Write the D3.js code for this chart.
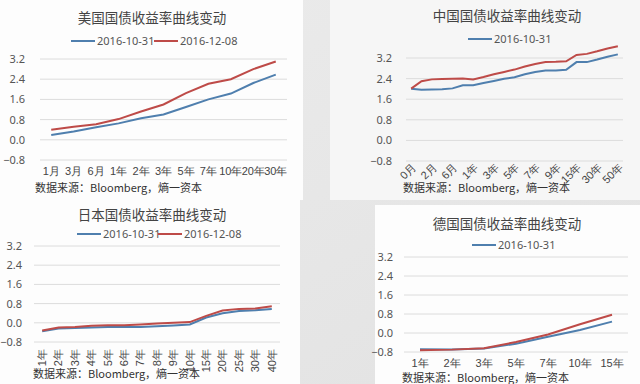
<!DOCTYPE html>
<html>
<head>
<meta charset="utf-8">
<script src="https://cdn.jsdelivr.net/npm/d3@7"></script>
<style>
body { margin: 0; background: #e6e6e6; }
svg { display: block; font-family: "Noto Sans CJK SC", "Noto Sans", sans-serif; }
</style>
</head>
<body>
<div id="chart"></div>
<script>
// Data
var yTicks = [-0.8, 0.0, 0.8, 1.6, 2.4, 3.2];
var seriesNames = ["2016-10-31", "2016-12-08"];

var usTerms = ["1月", "3月", "6月", "1年", "2年", "3年", "5年", "7年", "10年", "20年", "30年"];
var usOct = [0.19, 0.33, 0.50, 0.65, 0.85, 1.00, 1.30, 1.60, 1.83, 2.25, 2.58];
var usDec = [0.40, 0.52, 0.62, 0.82, 1.12, 1.40, 1.85, 2.22, 2.40, 2.80, 3.10];

var cnTerms = ["0月", "1月", "2月", "3月", "6月", "9月", "1年", "2年", "3年", "4年", "5年",
  "6年", "7年", "8年", "9年", "10年", "15年", "20年", "30年", "40年", "50年"];
var cnOct = [2.01, 1.97, 1.98, 1.99, 2.02, 2.14, 2.14, 2.23, 2.31, 2.39, 2.45,
  2.57, 2.66, 2.71, 2.71, 2.74, 3.04, 3.04, 3.14, 3.25, 3.34];
var cnDec = [2.01, 2.30, 2.37, 2.38, 2.39, 2.40, 2.37, 2.46, 2.57, 2.66, 2.75,
  2.87, 2.97, 3.04, 3.05, 3.07, 3.32, 3.36, 3.46, 3.57, 3.66];

var jpTerms = ["1年", "2年", "3年", "4年", "5年", "6年", "7年", "8年", "9年", "10年",
  "15年", "20年", "25年", "30年", "40年"];
var jpOct = [-0.35, -0.24, -0.22, -0.20, -0.18, -0.18, -0.18, -0.14, -0.11, -0.07,
  0.22, 0.40, 0.49, 0.52, 0.58];
var jpDec = [-0.32, -0.20, -0.17, -0.12, -0.10, -0.10, -0.07, -0.03, 0.00, 0.03,
  0.29, 0.51, 0.58, 0.60, 0.69];

var deTerms = ["1年", "2年", "3年", "5年", "7年", "10年", "15年"];
var deOct = [-0.68, -0.69, -0.65, -0.45, -0.16, 0.13, 0.48];
var deDec = [-0.73, -0.70, -0.64, -0.38, -0.06, 0.37, 0.77];

var blue = "#4f7fae";
var red = "#be4b48";
var source = "数据来源：Bloomberg，熵一资本";

var svg = d3.select("#chart")
  .append("svg")
  .attr("width", 640)
  .attr("height", 384);

// photo-like background with white chart cards
var grad = svg.append("defs").append("linearGradient")
  .attr("id", "bg").attr("x1", 0).attr("y1", 0).attr("x2", 1).attr("y2", 1);
grad.append("stop").attr("offset", "0%").attr("stop-color", "#ececec");
grad.append("stop").attr("offset", "100%").attr("stop-color", "#e2e2e2");
svg.append("rect").attr("width", 640).attr("height", 384).attr("fill", "url(#bg)");

svg.append("rect").attr("x", 0).attr("y", 0).attr("width", 303).attr("height", 200).attr("fill", "#fdfdfd");
svg.append("rect").attr("x", 0).attr("y", 200).attr("width", 300).attr("height", 184).attr("fill", "#fdfdfd");
svg.append("rect").attr("x", 330).attr("y", 0).attr("width", 310).attr("height", 200).attr("fill", "#f6f6f6");
svg.append("rect").attr("x", 375).attr("y", 205).attr("width", 265).attr("height", 179).attr("fill", "#fdfdfd");

function drawPanel(cfg) {
  var g = svg.append("g");

  var x = d3.scaleBand()
    .domain(cfg.terms)
    .range(cfg.xRange);

  var y = d3.scaleLinear()
    .domain([-0.8, 3.2])
    .range(cfg.yRange);

  // gridlines
  g.selectAll("line.grid")
    .data(yTicks)
    .enter()
    .append("line")
    .attr("x1", cfg.xRange[0])
    .attr("x2", cfg.xRange[1])
    .attr("y1", d => y(d))
    .attr("y2", d => y(d))
    .attr("stroke", "#dcdcdc")
    .attr("stroke-width", 1);

  // y tick labels
  g.append("g")
    .attr("transform", `translate(${cfg.yLabelX}, 0)`)
    .call(d3.axisLeft(y).tickValues(yTicks).tickFormat(d3.format(".1f")).tickSize(0))
    .call(a => a.select(".domain").remove())
    .call(a => a.selectAll("text")
      .attr("fill", "#555")
      .attr("font-size", 11)
      .attr("font-family", "'Noto Sans', sans-serif"));

  // x tick labels
  var xAxis = d3.axisBottom(x).tickSize(0);
  if (cfg.every) xAxis.tickValues(cfg.terms.filter((d, i) => i % cfg.every === 0));
  var ax = g.append("g")
    .attr("transform", `translate(0, ${cfg.xLabelY})`)
    .call(xAxis);
  ax.select(".domain").remove();
  ax.selectAll("text")
    .attr("fill", "#444")
    .attr("font-size", 11);
  if (cfg.rotate === 45) {
    ax.selectAll("text")
      .attr("y", 0).attr("dy", "0.35em").attr("x", 4)
      .attr("text-anchor", "end")
      .attr("transform", "rotate(-45)");
  } else if (cfg.rotate === 90) {
    ax.selectAll("text")
      .attr("y", 0).attr("dy", "0.35em").attr("x", 0)
      .attr("text-anchor", "end")
      .attr("transform", "rotate(-90)");
  }

  // lines
  var line = d3.line()
    .x((d, i) => x(cfg.terms[i]) + x.bandwidth() / 2)
    .y(d => y(d));

  g.append("path")
    .datum(cfg.oct)
    .attr("fill", "none")
    .attr("stroke", blue)
    .attr("stroke-width", 2)
    .attr("d", line);

  g.append("path")
    .datum(cfg.dec)
    .attr("fill", "none")
    .attr("stroke", red)
    .attr("stroke-width", 2)
    .attr("d", line);

  // title
  g.append("text")
    .attr("x", cfg.titleX)
    .attr("y", cfg.titleY)
    .attr("text-anchor", "middle")
    .attr("dy", "0.35em")
    .attr("font-size", 13.5)
    .attr("fill", "#444")
    .text(cfg.title);

  // legend
  var colors = [blue, red];
  cfg.legend.forEach(function(lx, i) {
    g.append("line")
      .attr("x1", lx).attr("x2", lx + 24)
      .attr("y1", cfg.legendY).attr("y2", cfg.legendY)
      .attr("stroke", colors[i]).attr("stroke-width", 2);
    g.append("text")
      .attr("x", lx + 26)
      .attr("y", cfg.legendY)
      .attr("dy", "0.35em")
      .attr("font-size", 11)
      .attr("fill", "#555")
      .attr("font-family", "'Noto Sans', sans-serif")
      .text(seriesNames[i]);
  });

  // source note
  g.append("text")
    .attr("x", cfg.sourceX)
    .attr("y", cfg.sourceY)
    .attr("font-size", 11)
    .attr("fill", "#333")
    .text(source);
}

drawPanel({
  title: "美国国债收益率曲线变动", titleX: 152, titleY: 18,
  terms: usTerms, oct: usOct, dec: usDec,
  xRange: [40, 287], yRange: [160, 59], yLabelX: 28, xLabelY: 164,
  legend: [71, 154], legendY: 41, sourceX: 35, sourceY: 192
});

drawPanel({
  title: "中国国债收益率曲线变动", titleX: 507, titleY: 16,
  terms: cnTerms, oct: cnOct, dec: cnDec,
  xRange: [406, 623], yRange: [161, 58], yLabelX: 395, xLabelY: 168,
  every: 2, rotate: 45,
  legend: [468], legendY: 39, sourceX: 403, sourceY: 192
});

drawPanel({
  title: "日本国债收益率曲线变动", titleX: 152, titleY: 215,
  terms: jpTerms, oct: jpOct, dec: jpDec,
  xRange: [34, 280], yRange: [342, 246], yLabelX: 25, xLabelY: 349,
  rotate: 90,
  legend: [77, 158], legendY: 234, sourceX: 33, sourceY: 378
});

drawPanel({
  title: "德国国债收益率曲线变动", titleX: 507, titleY: 224,
  terms: deTerms, oct: deOct, dec: deDec,
  xRange: [404, 628], yRange: [352, 257], yLabelX: 396, xLabelY: 356,
  legend: [472], legendY: 245, sourceX: 402, sourceY: 382
});
</script>
</body>
</html>
